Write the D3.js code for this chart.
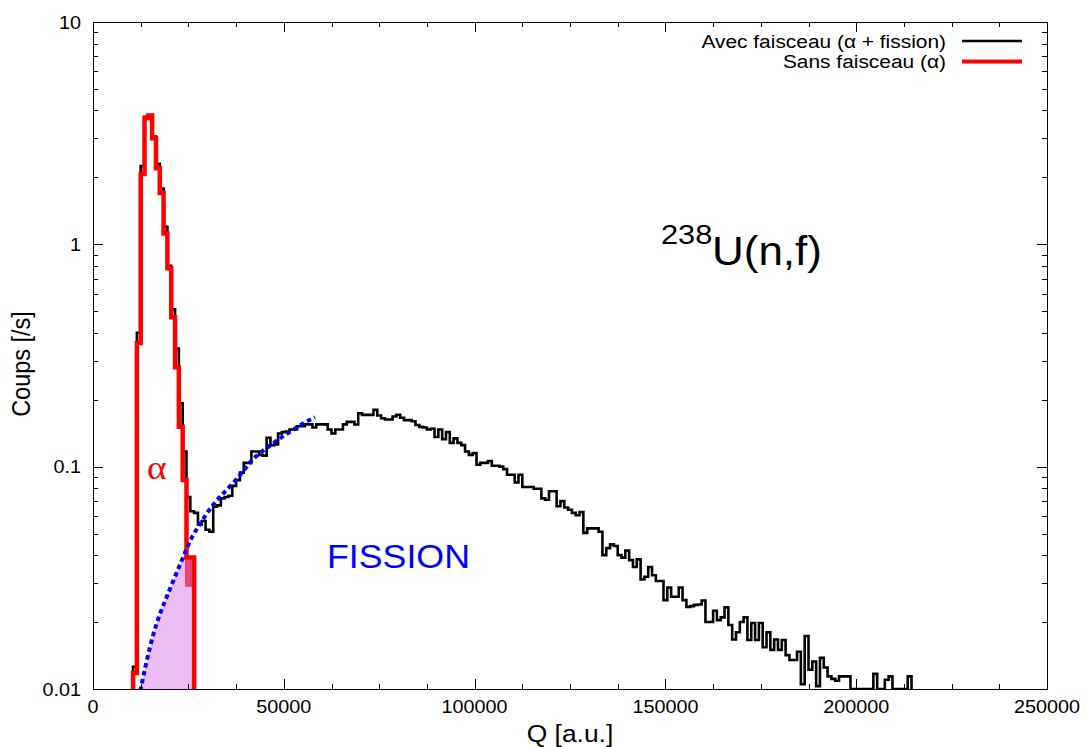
<!DOCTYPE html>
<html><head><meta charset="utf-8">
<script src="https://cdn.jsdelivr.net/npm/d3@7"></script>
<style>
body{margin:0;background:#fff;}
svg{display:block;}
text{font-family:"Liberation Sans", Arial, sans-serif;}
</style>
</head><body><svg id="c" width="1086" height="747"></svg>
<script>
// ---------------- data ----------------
const binWidth = 1000;          // Q units per histogram bin
const blackStartBin = 11;       // first bin centre = 11000
const blackValues = [
 0.0126,0.40,2.25,3.75,3.8,3.05,2.3,1.78,1.2,0.8,            // 11-20
 0.51,0.34,0.193,0.117,0.073,0.063,0.062,0.055,0.057,0.052,   // 21-30
 0.051,0.066,0.067,0.072,0.073,0.074,0.082,0.087,0.094,0.104, // 31-40
 0.104,0.117,0.117,0.113,0.112,0.135,0.125,0.126,0.141,0.143, // 41-50
 0.144,0.147,0.147,0.152,0.152,0.155,0.155,0.150,0.155,0.155, // 51-60
 0.155,0.147,0.141,0.147,0.147,0.155,0.159,0.159,0.155,0.174, // 61-70
 0.171,0.171,0.171,0.180,0.170,0.165,0.163,0.163,0.168,0.171, // 71-80
 0.166,0.162,0.162,0.160,0.154,0.151,0.150,0.147,0.148,0.136, // 81-90
 0.147,0.133,0.143,0.128,0.134,0.128,0.125,0.117,0.113,0.115, // 91-100
 0.102,0.104,0.104,0.106,0.101,0.101,0.100,0.0975,0.092,0.092,// 101-110
 0.085,0.092,0.081,0.081,0.081,0.0795,0.0795,0.072,0.071,0.0775, // 111-120
 0.0775,0.0664,0.070,0.0655,0.064,0.062,0.0605,0.0625,0.0504,0.0528, // 121-130
 0.0528,0.0528,0.051,0.040,0.043,0.0447,0.044,0.040,0.039,0.0419, // 131-140
 0.038,0.0354,0.0383,0.0311,0.032,0.0354,0.0325,0.0306,0.0306,0.0251, // 141-150
 0.0286,0.026,0.026,0.0286,0.0251,0.0234,0.0236,0.0239,0.024,0.025, // 151-160
 0.020,0.020,0.0225,0.0204,0.021,0.0233,0.0194,0.0167,0.018,0.020, // 161-170
 0.021,0.0166,0.0198,0.0166,0.0198,0.0154,0.018,0.015,0.0167,0.015, // 171-180
 0.0166,0.0142,0.0135,0.0135,0.0147,0.0105,0.0173,0.0122,0.0133,0.0103, // 181-190
 0.0138,0.0125,0.0114,0.0111,0.0109,0.0114,0.0114,0.0114,0,0, // 191-200
 0,0,0,0,0.0117,0,0,0.011,0.0114,0,                           // 201-210
 0,0,0,0.0114                                                 // 211-214
];
const redStartBin = 11;
const redValues = [
 0.0118,0.36,2.07,3.7,3.8,3.0,2.2,1.7,1.12,0.78,
 0.47,0.28,0.151,0.087,0.039,0.039
];
// fission fit curve
const fitQ = [12400,14072,15802,17557,19313,21488,23663,25864,28039,30660,33280,36765,40277,42006,45518,49003,52488,56000,58175];
const fitV = [0.0098,0.0135,0.0178,0.0219,0.026,0.032,0.0394,0.0484,0.0552,0.065,0.0733,0.0842,0.0997,0.1094,0.1213,0.1345,0.1466,0.160,0.1667];
// darker overlap patch
const overlapQ = [24100, 26000];
const overlapV = [0.0288, 0.039];

const xTicks = [0,50000,100000,150000,200000,250000];
const xTickLabels = ["0","50000","100000","150000","200000","250000"];
const xMinorStep = 12500;
const yTicks = [0.01,0.1,1,10];
const yTickLabels = ["0.01","0.1","1","10"];
const legendLabels = ["Avec faisceau (\u03b1 + fission)","Sans faisceau (\u03b1)"];
const legendColors = ["#000000","#ff0000"];

// ---------------- layout ----------------
const svg = d3.select("#c");
const L = 93, R = 1047, T = 22, B = 689;
const SX = 1.1; // horizontal text stretch of the original image
const x = d3.scaleLinear().domain([0,250000]).range([L,R]);
const y = d3.scaleLog().domain([0.01,10]).range([B,T]);

function txt(px, py, s, size, anchor, fill, rot){
  const t = svg.append("text")
    .attr("transform", rot ? `translate(${px},${py}) rotate(-90) scale(1,${SX})`
                           : `translate(${px},${py}) scale(${SX},1)`)
    .attr("font-size", size).attr("text-anchor", anchor).attr("fill", fill || "#000")
    .text(s);
  return t;
}

const defs = svg.append("defs");
defs.append("clipPath").attr("id","plotclip").append("rect")
  .attr("x",L).attr("y",T).attr("width",R-L).attr("height",B-T);

function histPoints(start, vals){
  const pts = [];
  const ymin = y.domain()[0];
  pts.push([(start-0.5)*binWidth, ymin]);
  vals.forEach((v,i)=>{
    const k = start+i;
    const vv = Math.max(v, ymin);
    pts.push([(k-0.5)*binWidth, vv]);
    pts.push([(k+0.5)*binWidth, vv]);
  });
  pts.push([(start+vals.length-0.5)*binWidth, ymin]);
  return pts;
}
const line = d3.line().x(d=>x(d[0])).y(d=>y(d[1]));

const redPts = histPoints(redStartBin, redValues);
const blackPts = histPoints(blackStartBin, blackValues);
defs.append("clipPath").attr("id","redclip").append("path")
  .attr("d", line(redPts) + "Z");

const plot = svg.append("g").attr("clip-path","url(#plotclip)");

// pink fill : fission part under the alpha peak
const fitPts = fitQ.map((q,i)=>[q, fitV[i]]);
plot.append("g").attr("clip-path","url(#redclip)")
  .append("path")
  .attr("d", d3.area().x(d=>x(d[0])).y0(B).y1(d=>y(d[1])).curve(d3.curveBasis)(fitPts))
  .attr("fill","#ecbcf6");
plot.append("rect")
  .attr("x", x(overlapQ[0])).attr("width", x(overlapQ[1])-x(overlapQ[0]))
  .attr("y", y(overlapV[1])).attr("height", y(overlapV[0])-y(overlapV[1]))
  .attr("fill","#e8457f");

// histograms
plot.append("path").attr("d", line(blackPts))
  .attr("fill","none").attr("stroke","#000").attr("stroke-width",2.6).attr("stroke-linejoin","miter");
plot.append("path").attr("d", line(redPts))
  .attr("fill","none").attr("stroke","#ff0000").attr("stroke-width",4.5).attr("stroke-linejoin","miter");

// fit curve
plot.append("path")
  .attr("d", d3.line().x(d=>x(d[0])).y(d=>y(d[1])).curve(d3.curveBasis)(fitPts))
  .attr("fill","none").attr("stroke","#0000ff").attr("stroke-width",4)
  .attr("stroke-dasharray","4.5 3.5");

// ---------------- axes / border ----------------
const ax = svg.append("g").attr("stroke","#000").attr("stroke-width",1).attr("shape-rendering","crispEdges");
ax.append("rect").attr("x",L).attr("y",T).attr("width",R-L).attr("height",B-T).attr("fill","none");
// x ticks
d3.range(0, 250000+1, xMinorStep).forEach(q=>{
  const major = xTicks.includes(q);
  const len = major ? 10 : 5;
  const px = Math.round(x(q))+0.5;
  ax.append("line").attr("x1",px).attr("x2",px).attr("y1",B).attr("y2",B-len);
  ax.append("line").attr("x1",px).attr("x2",px).attr("y1",T).attr("y2",T+len);
});
// y ticks (log)
yTicks.forEach((t,i)=>{
  const mults = i < yTicks.length-1 ? [1,2,3,4,5,6,7,8,9] : [1];
  mults.forEach(m=>{
    const v = t*m;
    const len = m===1 ? 10 : 5;
    const py = Math.round(y(v))+0.5;
    ax.append("line").attr("x1",L).attr("x2",L+len).attr("y1",py).attr("y2",py);
    ax.append("line").attr("x1",R).attr("x2",R-len).attr("y1",py).attr("y2",py);
  });
});

// tick labels
xTicks.forEach((q,i)=> txt(x(q), 713, xTickLabels[i], 18, "middle"));
yTicks.forEach((t,i)=> txt(81, y(t)+6.5, yTickLabels[i], 18, "end"));

// axis titles
txt(570, 742, "Q [a.u.]", 24, "middle");
txt(30, 364, "Coups [/s]", 23.5, "middle", "#000", true);

// legend
legendLabels.forEach((s,i)=>{
  const yy = 41 + i*20.5;
  txt(946, yy+6.5, s, 19, "end");
  svg.append("line").attr("x1",962).attr("x2",1022).attr("y1",yy).attr("y2",yy)
    .attr("stroke",legendColors[i]).attr("stroke-width", i===0 ? 2.6 : 4.2);
});

// annotations
txt(661, 244, "238", 28, "start");
txt(712, 265, "U(n,f)", 40, "start");
txt(327, 568, "FISSION", 32.5, "start", "#0000ff");
txt(147, 479, "\u03b1", 34, "start", "#ff0000").style("font-family", "'Liberation Serif', 'Times New Roman', serif");
</script>
</body></html>
